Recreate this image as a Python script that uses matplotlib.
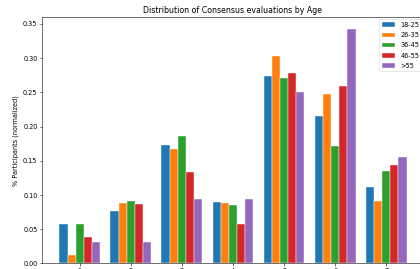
import matplotlib
matplotlib.use('Agg')
import matplotlib.pyplot as plt
import numpy as np

# consensus evaluation (1..7) share per age group
ratings = [1, 2, 3, 4, 5, 6, 7]
age_groups = ['18-25', '26-35', '36-45', '46-55', '>55']
share_18_25 = [0.058, 0.077, 0.173, 0.090, 0.274, 0.216, 0.112]
share_26_35 = [0.013, 0.089, 0.167, 0.088, 0.303, 0.247, 0.092]
share_36_45 = [0.057, 0.092, 0.186, 0.085, 0.271, 0.171, 0.135]
share_46_55 = [0.038, 0.087, 0.134, 0.057, 0.279, 0.259, 0.144]
share_55_up = [0.031, 0.031, 0.094, 0.094, 0.250, 0.343, 0.156]

series = [share_18_25, share_26_35, share_36_45, share_46_55, share_55_up]
colors = ['#1f77b4', '#ff7f0e', '#2ca02c', '#d62728', '#9467bd']

fs = 4.7
fig = plt.figure(figsize=(4.2, 2.69), dpi=100)
ax = fig.add_axes([0.1, 0.0205, 0.9095, 0.9164])

x = np.array(ratings, dtype=float)
width = 0.16
for i, (vals, label, c) in enumerate(zip(series, age_groups, colors)):
    ax.bar(x + (i - 2) * width, vals, width, color=c, label=label,
           edgecolor='white', linewidth=0.3)

ax.set_xticks(ratings)
ax.set_xticklabels([str(r) for r in ratings], fontsize=fs)
ax.tick_params(axis='both', labelsize=fs, length=1.8, width=0.4, pad=1.5)
ax.set_yticks(np.arange(0, 0.36, 0.05))
ax.set_ylabel('% Participants (normalized)', fontsize=fs, labelpad=3)
ax.set_title('Distribution of Consensus evaluations by Age', fontsize=5.7, pad=3)
for sp in ax.spines.values():
    sp.set_linewidth(0.4)

leg = ax.legend(loc='upper right', fontsize=fs, borderaxespad=0.35, handlelength=2.0,
                labelspacing=0.65, frameon=True, edgecolor='#cccccc')
leg.get_frame().set_linewidth(0.4)

fig.savefig('out.png', dpi=100)
